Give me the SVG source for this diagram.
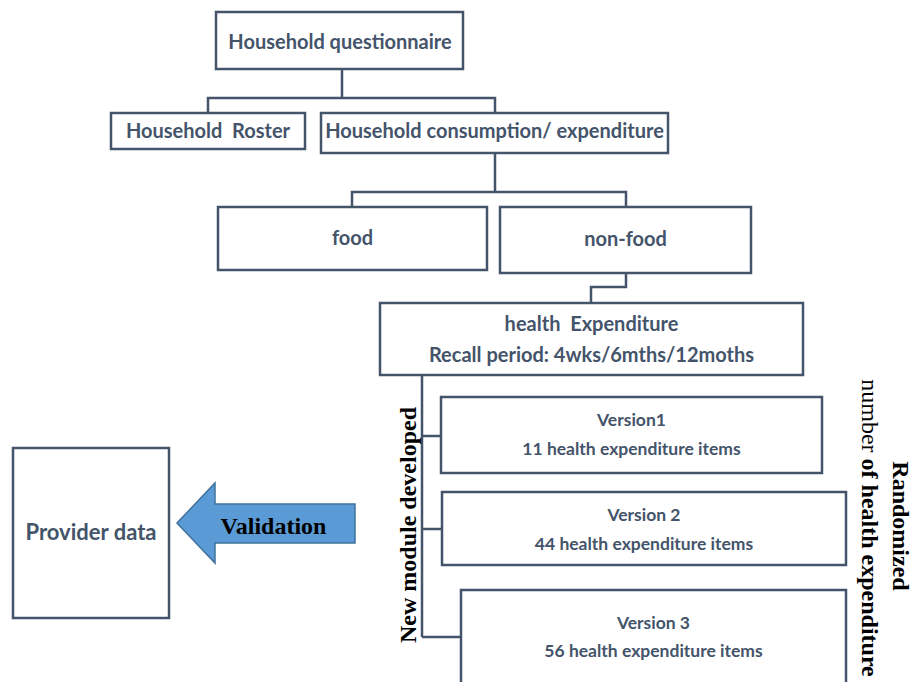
<svg xmlns="http://www.w3.org/2000/svg" width="913" height="682" viewBox="0 0 913 682">
  <style>
    .box { fill: #ffffff; stroke: #44546A; stroke-width: 2.5; }
    .wire { fill: none; stroke: #44546A; stroke-width: 2.5; }
    .lbl { font-family: Lato, "Liberation Sans", sans-serif; font-weight: bold; fill: #44546A; text-anchor: middle; }
    .big { font-size: 20px; }
    .small { font-size: 17.5px; }
    .serif { font-family: "Liberation Serif", "Times New Roman", serif; font-size: 24px; fill: #000000; text-anchor: middle; }
  </style>

  <!-- tree connectors -->
  <g id="connectors">
    <path class="wire" d="M342,69 V98 M208,113 V98 H495 V113"/>
    <path class="wire" d="M495,153 V192 M352,207 V192 H626 V207"/>
    <path class="wire" d="M626,273 V287 H591 V303"/>
    <path class="wire" d="M422,375 V637 M422,436 H441 M422,529 H442 M422,637 H461"/>
  </g>

  <g id="questionnaire">
    <rect class="box" x="216" y="12" width="247" height="57"/>
    <text class="lbl big" x="340" y="49">Household questionnaire</text>
  </g>

  <g id="roster">
    <rect class="box" x="111" y="113" width="194" height="36"/>
    <text class="lbl big" x="208" y="138" xml:space="preserve">Household  Roster</text>
  </g>

  <g id="consumption">
    <rect class="box" x="321" y="113" width="347" height="40"/>
    <text class="lbl big" x="494.5" y="138">Household consumption/ expenditure</text>
  </g>

  <g id="food">
    <rect class="box" x="218" y="207" width="269" height="63"/>
    <text class="lbl big" x="352.5" y="245">food</text>
  </g>

  <g id="non-food">
    <rect class="box" x="500" y="207" width="251" height="66"/>
    <text class="lbl big" x="625.5" y="246">non-food</text>
  </g>

  <g id="health">
    <rect class="box" x="380" y="303" width="423" height="72"/>
    <text class="lbl big" x="591.5" y="331" xml:space="preserve">health  Expenditure</text>
    <text class="lbl big" x="591.5" y="362">Recall period: 4wks/6mths/12moths</text>
  </g>

  <g id="version1">
    <rect class="box" x="441" y="397" width="381" height="76"/>
    <text class="lbl small" x="631.5" y="426">Version1</text>
    <text class="lbl small" x="631.5" y="455">11 health expenditure items</text>
  </g>

  <g id="version2">
    <rect class="box" x="442" y="492" width="404" height="73"/>
    <text class="lbl small" x="644" y="521">Version 2</text>
    <text class="lbl small" x="644" y="550">44 health expenditure items</text>
  </g>

  <g id="version3">
    <rect class="box" x="461" y="590" width="385" height="100"/>
    <text class="lbl small" x="653.5" y="629">Version 3</text>
    <text class="lbl small" x="653.5" y="657">56 health expenditure items</text>
  </g>

  <g id="provider">
    <rect class="box" x="13" y="448" width="156" height="170"/>
    <text class="lbl" style="font-size:22px" x="91" y="540">Provider data</text>
  </g>

  <g id="validation">
    <polygon points="177,523 215,483 215,504 355,504 355,543 215,543 215,563" fill="#5B9BD5" stroke="#41719C" stroke-width="1.5"/>
    <text class="serif" font-weight="bold" x="273.5" y="534">Validation</text>
  </g>

  <!-- side captions -->
  <g id="side-labels">
    <text class="serif" font-weight="bold" transform="translate(416,525) rotate(-90)">New module developed</text>
    <text class="serif" font-weight="bold" transform="translate(893,526) rotate(90)">Randomized</text>
    <text class="serif" transform="translate(862,528) rotate(90)">number <tspan font-weight="bold">of health expenditure</tspan></text>
  </g>
</svg>
